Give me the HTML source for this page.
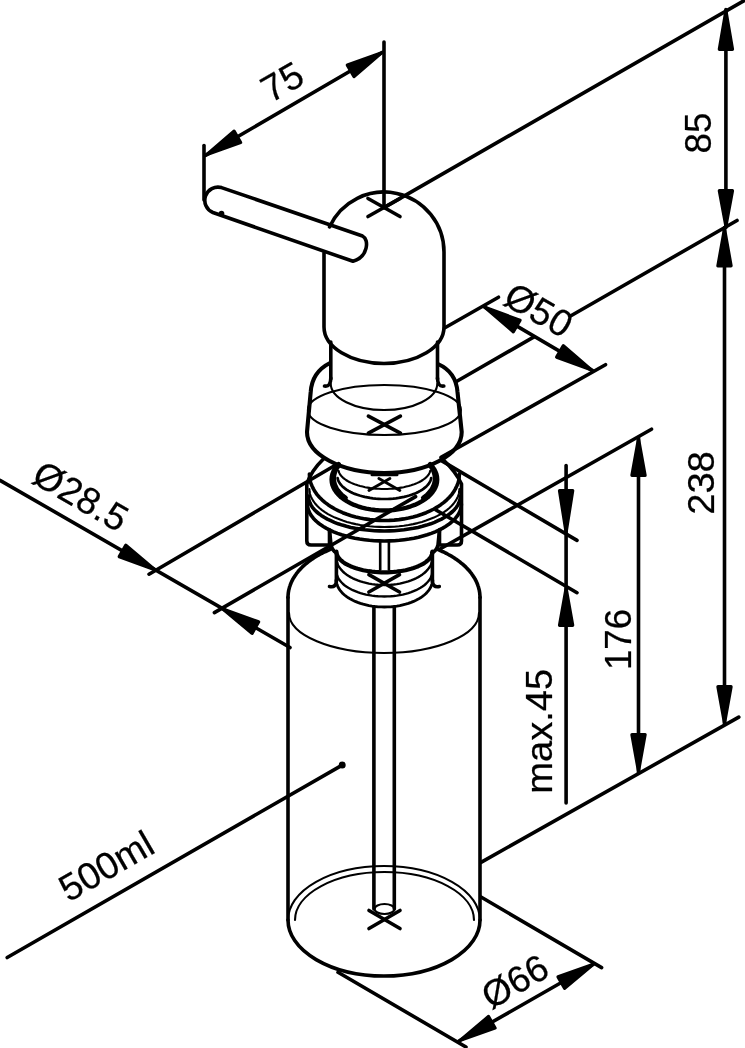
<!DOCTYPE html>
<html><head><meta charset="utf-8"><style>
html,body{margin:0;padding:0;background:#fff;}
svg{display:block;filter:grayscale(100%);}
text{font-family:"Liberation Sans",sans-serif;}
</style></head><body>
<svg width="745" height="1048" viewBox="0 0 745 1048" stroke="#000" stroke-linecap="round" stroke-linejoin="round" fill="none">
<rect width="745" height="1048" fill="#fff" stroke="none"/>
<line x1="204.0" y1="145.5" x2="204.0" y2="200.0" stroke-width="3.6"/>
<line x1="384.0" y1="42.0" x2="384.0" y2="207.5" stroke-width="3.6"/>
<line x1="205.5" y1="155.4" x2="382.5" y2="52.3" stroke-width="3.6"/>
<path d="M207.0,154.5 L240.6,142.5 L234.0,131.2 Z" fill="#000" stroke="#000" stroke-width="3.4"/>
<path d="M381.0,53.2 L347.4,65.2 L354.0,76.5 Z" fill="#000" stroke="#000" stroke-width="3.4"/>
<text x="270.6" y="103.5" transform="rotate(-30 270.6 103.5)" font-size="37.5" stroke="#000" stroke-width="0.25" fill="#000">75</text>
<line x1="384.0" y1="207.6" x2="745.0" y2="0.1" stroke-width="3.6"/>
<line x1="456.0" y1="381.7" x2="534.0" y2="336.9" stroke-width="3.6"/>
<line x1="570.5" y1="316.0" x2="737.0" y2="220.5" stroke-width="3.6"/>
<line x1="481.0" y1="862.4" x2="738.8" y2="717.1" stroke-width="3.6"/>
<line x1="725.9" y1="9.5" x2="725.9" y2="227.5" stroke-width="3.6"/>
<line x1="724.5" y1="227.5" x2="724.5" y2="724.0" stroke-width="3.6"/>
<path d="M725.9,11.2 L719.4,49.3 L732.4,49.3 Z" fill="#000" stroke="#000" stroke-width="3.4"/>
<path d="M725.9,225.8 L732.4,190.7 L719.4,190.7 Z" fill="#000" stroke="#000" stroke-width="3.4"/>
<path d="M724.5,229.2 L718.0,265.8 L731.0,265.8 Z" fill="#000" stroke="#000" stroke-width="3.4"/>
<path d="M724.5,722.8 L731.0,686.7 L718.0,686.7 Z" fill="#000" stroke="#000" stroke-width="3.4"/>
<text x="710.5" y="153.5" transform="rotate(-90 710.5 153.5)" font-size="36.7" stroke="#000" stroke-width="0.25" fill="#000">85</text>
<text x="714" y="514.8" transform="rotate(-90 714 514.8)" font-size="36" textLength="63.6" lengthAdjust="spacingAndGlyphs" stroke="#000" stroke-width="0.25" fill="#000">238</text>
<line x1="440.0" y1="549.0" x2="651.5" y2="429.2" stroke-width="3.6"/>
<line x1="638.5" y1="437.6" x2="638.5" y2="772.5" stroke-width="3.6"/>
<path d="M638.5,439.3 L632.0,475.4 L645.0,475.4 Z" fill="#000" stroke="#000" stroke-width="3.4"/>
<path d="M638.5,770.8 L645.0,734.7 L632.0,734.7 Z" fill="#000" stroke="#000" stroke-width="3.4"/>
<text x="631" y="670" transform="rotate(-90 631 670)" font-size="36" textLength="61.1" lengthAdjust="spacingAndGlyphs" stroke="#000" stroke-width="0.25" fill="#000">176</text>
<line x1="441.0" y1="460.4" x2="577.0" y2="540.4" stroke-width="3.6"/>
<line x1="436.0" y1="510.0" x2="577.0" y2="592.7" stroke-width="3.6"/>
<line x1="566.1" y1="465.5" x2="566.1" y2="803.0" stroke-width="3.6"/>
<path d="M566.1,531.8 L572.6,490.7 L559.6,490.7 Z" fill="#000" stroke="#000" stroke-width="3.4"/>
<path d="M566.1,588.7 L559.6,625.3 L572.6,625.3 Z" fill="#000" stroke="#000" stroke-width="3.4"/>
<text x="552" y="793.7" transform="rotate(-90 552 793.7)" font-size="36.7" textLength="124.9" lengthAdjust="spacingAndGlyphs" stroke="#000" stroke-width="0.25" fill="#000">max.45</text>
<line x1="444.5" y1="328.0" x2="498.5" y2="297.2" stroke-width="3.6"/>
<line x1="441.0" y1="457.3" x2="605.5" y2="364.7" stroke-width="3.6"/>
<line x1="484.0" y1="306.8" x2="592.6" y2="370.6" stroke-width="3.6"/>
<path d="M485.5,307.7 L513.3,331.6 L519.9,320.3 Z" fill="#000" stroke="#000" stroke-width="3.4"/>
<path d="M591.1,369.7 L563.3,345.8 L556.7,357.1 Z" fill="#000" stroke="#000" stroke-width="3.4"/>
<text x="501.6" y="303.4" transform="rotate(30 501.6 303.4)" font-size="37.5" stroke="#000" stroke-width="0.25" fill="#000">Ø50</text>
<line x1="0.0" y1="480.3" x2="290.0" y2="647.5" stroke-width="3.6"/>
<path d="M154.2,569.3 L125.8,545.4 L119.3,556.7 Z" fill="#000" stroke="#000" stroke-width="3.4"/>
<path d="M223.5,609.4 L252.0,633.3 L258.5,621.9 Z" fill="#000" stroke="#000" stroke-width="3.4"/>
<line x1="149.0" y1="574.2" x2="334.0" y2="466.0" stroke-width="3.6"/>
<line x1="214.4" y1="612.6" x2="415.6" y2="496.6" stroke-width="3.6"/>
<text x="30" y="481.8" transform="rotate(30 30 481.8)" font-size="37.5" stroke="#000" stroke-width="0.25" fill="#000">Ø28.5</text>
<line x1="342.2" y1="765.1" x2="7.2" y2="957.5" stroke-width="3.6"/>
<circle cx="342.2" cy="765.1" r="3.5" fill="#000" stroke="none"/>
<text x="68.4" y="902.8" transform="rotate(-30 68.4 902.8)" font-size="37.5" stroke="#000" stroke-width="0.25" fill="#000">500ml</text>
<line x1="338.0" y1="972.3" x2="466.0" y2="1047.0" stroke-width="3.6"/>
<line x1="481.0" y1="897.0" x2="601.6" y2="967.6" stroke-width="3.6"/>
<line x1="458.9" y1="1041.0" x2="594.2" y2="963.8" stroke-width="3.6"/>
<path d="M460.4,1040.2 L495.0,1028.0 L488.5,1016.6 Z" fill="#000" stroke="#000" stroke-width="3.4"/>
<path d="M592.7,964.6 L558.1,976.8 L564.6,988.2 Z" fill="#000" stroke="#000" stroke-width="3.4"/>
<text x="491" y="1010" transform="rotate(-30 491 1010)" font-size="37" stroke="#000" stroke-width="0.25" fill="#000">Ø66</text>
<path d="M221.5,187.6 L362.5,236 C369.5,239.5 368,257 353,261.3 L212.9,212.5 A13.2,13.2 0 0 1 221.5,187.6 Z" stroke-width="3.6" fill="none"/>
<circle cx="221.5" cy="213.6" r="2.8" fill="#000" stroke="none"/>
<path d="M329.5,226.9 A60,60 0 0 1 444,252 L444,327 A60,36.5 0 0 1 324,327 L324,253" stroke-width="3.6" fill="none"/>
<line x1="368.0" y1="198.5" x2="400.0" y2="216.5" stroke-width="3.6"/>
<line x1="368.0" y1="216.5" x2="400.0" y2="198.5" stroke-width="3.6"/>
<line x1="330.8" y1="342.0" x2="330.8" y2="379.0" stroke-width="3.6"/>
<line x1="437.5" y1="342.0" x2="437.5" y2="379.0" stroke-width="3.6"/>
<path d="M330.8,378 Q330.8,387 324.5,386" stroke-width="3.6" fill="none"/>
<path d="M437.5,378 Q437.5,387 443.8,386" stroke-width="3.6" fill="none"/>
<path d="M330.7,383.5 A53.3,26.5 0 0 0 437.3,383.5" stroke-width="2.1" fill="none"/>
<path d="M330,363 Q312,372 310.7,392 L307,432 A77.35,41 0 0 0 461.7,432 L457.5,392 Q456,372 438,364" stroke-width="4.1" fill="none"/>
<ellipse cx="384.4" cy="410" rx="76.5" ry="25" stroke-width="2.1" fill="none"/>
<line x1="368.4" y1="416.1" x2="400.4" y2="433.1" stroke-width="3.6"/>
<line x1="368.4" y1="433.1" x2="400.4" y2="416.1" stroke-width="3.6"/>
<path d="M430.1,464.0 L432.3,466.4 L434.0,468.9 L435.4,471.5 L436.4,474.1 L437.0,476.8 L437.2,479.5 L437.0,482.2 L436.4,484.9 L435.4,487.5 L434.0,490.1 L432.3,492.6 L430.1,495.0 L427.7,497.3 L424.8,499.4 L421.7,501.4 L418.3,503.2 L414.7,504.9 L410.8,506.3 L406.7,507.6 L402.5,508.6 L398.1,509.4 L393.6,510.0 L389.0,510.4 L384.4,510.5 L379.8,510.4 L375.2,510.0 L370.7,509.4 L366.3,508.6 L362.1,507.6 L358.0,506.3 L354.1,504.9 L350.5,503.2 L347.1,501.4 L344.0,499.4 L341.1,497.3 L338.7,495.0 L336.5,492.6 L334.8,490.1 L333.4,487.5 L332.4,484.9 L331.8,482.2 L331.6,479.5 L331.8,476.8 L332.4,474.1 L333.4,471.5 L334.8,468.9 L336.5,466.4 L338.7,464.0" stroke-width="4.4" fill="none"/>
<path d="M345.9,497.8 L345.1,497.2 L344.4,496.7 L343.7,496.1 L343.0,495.5 L342.3,494.9 L341.7,494.3 L341.1,493.7 L340.5,493.1 L339.9,492.5 L339.4,491.9 L338.9,491.2 L338.4,490.6 L337.9,489.9 L337.5,489.3 L337.0,488.6 L336.7,487.9 L336.3,487.3 L336.0,486.6 L335.7,485.9 L335.4,485.2 L335.1,484.5 L334.9,483.8 L334.7,483.1 L334.5,482.4 L334.4,481.7 L334.3,481.0 L334.2,480.3 L334.1,479.6 L334.1,478.9 L334.1,478.2 L334.1,477.5 L334.2,476.8 L334.3,476.0 L334.4,475.3 L334.5,474.6 L334.7,473.9 L334.9,473.2 L335.1,472.5 L335.4,471.8 L335.6,471.2 L335.9,470.5 L336.3,469.8 L336.6,469.1 L337.0,468.4 L337.4,467.8 L337.9,467.1 L338.3,466.5 L338.8,465.8" stroke-width="4.0" fill="none"/>
<path d="M430.0,465.8 L430.5,466.5 L430.9,467.1 L431.4,467.8 L431.8,468.4 L432.2,469.1 L432.5,469.8 L432.9,470.5 L433.2,471.2 L433.4,471.8 L433.7,472.5 L433.9,473.2 L434.1,473.9 L434.3,474.6 L434.4,475.3 L434.5,476.0 L434.6,476.8 L434.7,477.5 L434.7,478.2 L434.7,478.9 L434.7,479.6 L434.6,480.3 L434.5,481.0 L434.4,481.7 L434.3,482.4 L434.1,483.1 L433.9,483.8 L433.7,484.5 L433.4,485.2 L433.1,485.9 L432.8,486.6 L432.5,487.3 L432.1,487.9 L431.8,488.6 L431.3,489.3 L430.9,489.9 L430.4,490.6 L429.9,491.2 L429.4,491.9 L428.9,492.5 L428.3,493.1 L427.7,493.7 L427.1,494.3 L426.5,494.9 L425.8,495.5 L425.1,496.1 L424.4,496.7 L423.7,497.2 L422.9,497.8" stroke-width="4.0" fill="none"/>
<path d="M430.2,470.7 L429.9,472.0 L429.4,473.2 L428.7,474.4 L427.9,475.6 L426.8,476.7 L425.7,477.8 L424.3,478.9 L422.8,480.0 L421.2,481.0 L419.4,482.0 L417.5,482.9 L415.5,483.7 L413.3,484.6 L411.1,485.3 L408.7,486.0 L406.2,486.6 L403.7,487.2 L401.1,487.6 L398.4,488.1 L395.7,488.4 L392.9,488.7 L390.1,488.8 L387.2,489.0 L384.4,489.0 L381.6,489.0 L378.7,488.8 L375.9,488.7 L373.1,488.4 L370.4,488.1 L367.7,487.6 L365.1,487.2 L362.6,486.6 L360.1,486.0 L357.7,485.3 L355.5,484.6 L353.3,483.7 L351.3,482.9 L349.4,482.0 L347.6,481.0 L346.0,480.0 L344.5,478.9 L343.1,477.8 L342.0,476.7 L340.9,475.6 L340.1,474.4 L339.4,473.2 L338.9,472.0 L338.6,470.7" stroke-width="2.1" fill="none"/>
<path d="M431.2,478.0 L430.9,479.4 L430.4,480.8 L429.7,482.2 L428.8,483.6 L427.8,484.9 L426.6,486.2 L425.2,487.4 L423.7,488.6 L422.0,489.8 L420.2,490.9 L418.2,492.0 L416.2,493.0 L414.0,493.9 L411.6,494.7 L409.2,495.5 L406.7,496.2 L404.1,496.9 L401.4,497.4 L398.7,497.9 L395.9,498.3 L393.1,498.6 L390.2,498.8 L387.3,499.0 L384.4,499.0 L381.5,499.0 L378.6,498.8 L375.7,498.6 L372.9,498.3 L370.1,497.9 L367.4,497.4 L364.7,496.9 L362.1,496.2 L359.6,495.5 L357.2,494.7 L354.8,493.9 L352.6,493.0 L350.6,492.0 L348.6,490.9 L346.8,489.8 L345.1,488.6 L343.6,487.4 L342.2,486.2 L341.0,484.9 L340.0,483.6 L339.1,482.2 L338.4,480.8 L337.9,479.4 L337.6,478.0" stroke-width="2.7" fill="none"/>
<line x1="368.9" y1="490.4" x2="389.9" y2="478.5" stroke-width="2.9000000000000004"/>
<line x1="399.9" y1="490.4" x2="378.9" y2="478.5" stroke-width="2.9000000000000004"/>
<line x1="372.0" y1="474.8" x2="397.0" y2="474.8" stroke-width="3"/>
<path d="M323.4,459 Q311,471 306.8,484 L306.8,541 Q306.8,545 311,545 L329.5,545 L329.5,530" stroke-width="3.6" fill="none"/>
<path d="M443.5,460 Q456,472 461.5,484 L461.5,541 Q461.5,545 457.3,545 L439.5,545 L439.5,530" stroke-width="3.6" fill="none"/>
<path d="M459.4,474.0 L459.2,477.0 L458.8,480.1 L458.0,483.1 L456.8,486.0 L455.4,488.9 L453.7,491.8 L451.7,494.6 L449.4,497.2 L446.8,499.8 L443.9,502.3 L440.8,504.7 L437.4,506.9 L433.9,509.0 L430.1,510.9 L426.1,512.7 L421.9,514.3 L417.6,515.7 L413.1,517.0 L408.5,518.0 L403.8,518.9 L399.0,519.6 L394.2,520.1 L389.3,520.4 L384.4,520.5 L379.5,520.4 L374.6,520.1 L369.8,519.6 L365.0,518.9 L360.3,518.0 L355.7,517.0 L351.2,515.7 L346.9,514.3 L342.7,512.7 L338.7,510.9 L334.9,509.0 L331.4,506.9 L328.0,504.7 L324.9,502.3 L322.0,499.8 L319.4,497.2 L317.1,494.6 L315.1,491.8 L313.4,488.9 L312.0,486.0 L310.8,483.1 L310.0,480.1 L309.6,477.0 L309.4,474.0" stroke-width="3.6" fill="none"/>
<path d="M459.4,489.0 L459.2,491.5 L458.8,494.0 L458.0,496.4 L456.8,498.8 L455.4,501.2 L453.7,503.5 L451.7,505.8 L449.4,508.0 L446.8,510.1 L443.9,512.1 L440.8,514.1 L437.4,515.9 L433.9,517.6 L430.1,519.1 L426.1,520.6 L421.9,521.9 L417.6,523.1 L413.1,524.1 L408.5,525.0 L403.8,525.7 L399.0,526.3 L394.2,526.7 L389.3,526.9 L384.4,527.0 L379.5,526.9 L374.6,526.7 L369.8,526.3 L365.0,525.7 L360.3,525.0 L355.7,524.1 L351.2,523.1 L346.9,521.9 L342.7,520.6 L338.7,519.1 L334.9,517.6 L331.4,515.9 L328.0,514.1 L324.9,512.1 L322.0,510.1 L319.4,508.0 L317.1,505.8 L315.1,503.5 L313.4,501.2 L312.0,498.8 L310.8,496.4 L310.0,494.0 L309.6,491.5 L309.4,489.0" stroke-width="2.1" fill="none"/>
<path d="M460.4,496.0 L460.2,498.3 L459.7,500.6 L458.9,502.8 L457.8,505.1 L456.4,507.3 L454.6,509.4 L452.6,511.5 L450.2,513.5 L447.6,515.4 L444.7,517.3 L441.5,519.1 L438.1,520.7 L434.5,522.3 L430.7,523.8 L426.6,525.1 L422.4,526.3 L418.0,527.4 L413.5,528.3 L408.8,529.1 L404.1,529.8 L399.2,530.3 L394.3,530.7 L389.4,530.9 L384.4,531.0 L379.4,530.9 L374.5,530.7 L369.6,530.3 L364.7,529.8 L360.0,529.1 L355.3,528.3 L350.8,527.4 L346.4,526.3 L342.2,525.1 L338.1,523.8 L334.3,522.3 L330.7,520.7 L327.3,519.1 L324.1,517.3 L321.2,515.4 L318.6,513.5 L316.2,511.5 L314.2,509.4 L312.4,507.3 L311.0,505.1 L309.9,502.8 L309.1,500.6 L308.6,498.3 L308.4,496.0" stroke-width="3.6" fill="none"/>
<path d="M461.4,504.0 L461.2,506.4 L460.7,508.8 L459.9,511.2 L458.8,513.6 L457.3,515.9 L455.5,518.2 L453.5,520.4 L451.1,522.5 L448.4,524.6 L445.5,526.5 L442.3,528.4 L438.8,530.2 L435.2,531.8 L431.3,533.4 L427.2,534.8 L422.9,536.0 L418.5,537.2 L413.9,538.2 L409.2,539.0 L404.3,539.7 L399.4,540.3 L394.5,540.7 L389.4,540.9 L384.4,541.0 L379.4,540.9 L374.3,540.7 L369.4,540.3 L364.5,539.7 L359.6,539.0 L354.9,538.2 L350.3,537.2 L345.9,536.0 L341.6,534.8 L337.5,533.4 L333.6,531.8 L330.0,530.2 L326.5,528.4 L323.3,526.5 L320.4,524.6 L317.7,522.5 L315.3,520.4 L313.3,518.2 L311.5,515.9 L310.0,513.6 L308.9,511.2 L308.1,508.8 L307.6,506.4 L307.4,504.0" stroke-width="3.6" fill="none"/>
<path d="M329.5,530 L331,545 Q332.5,551 336.6,553" stroke-width="3.6" fill="none"/>
<path d="M439.5,530 L438,545 Q436.5,551 431.7,553" stroke-width="3.6" fill="none"/>
<path d="M432.4,551.5 L432.3,552.9 L432.0,554.2 L431.5,555.6 L430.8,556.9 L429.9,558.2 L428.7,559.5 L427.4,560.7 L426.0,561.9 L424.3,563.1 L422.5,564.2 L420.5,565.2 L418.3,566.2 L416.0,567.1 L413.6,568.0 L411.1,568.8 L408.4,569.5 L405.6,570.2 L402.8,570.7 L399.8,571.2 L396.8,571.6 L393.8,571.9 L390.7,572.1 L387.5,572.3 L384.4,572.3 L381.3,572.3 L378.1,572.1 L375.0,571.9 L372.0,571.6 L369.0,571.2 L366.0,570.7 L363.2,570.2 L360.4,569.5 L357.7,568.8 L355.2,568.0 L352.8,567.1 L350.5,566.2 L348.3,565.2 L346.3,564.2 L344.5,563.1 L342.8,561.9 L341.4,560.7 L340.1,559.5 L338.9,558.2 L338.0,556.9 L337.3,555.6 L336.8,554.2 L336.5,552.9 L336.4,551.5" stroke-width="4.2" fill="none"/>
<line x1="336.4" y1="553.0" x2="336.4" y2="581.0" stroke-width="3.6"/>
<line x1="432.4" y1="553.0" x2="432.4" y2="581.0" stroke-width="3.6"/>
<path d="M336.4,580 Q336.4,588 329.5,586.5" stroke-width="3.6" fill="none"/>
<path d="M432.4,580 Q432.4,588 439.3,586.5" stroke-width="3.6" fill="none"/>
<path d="M432.4,558.0 L432.3,559.8 L432.0,561.5 L431.5,563.3 L430.8,565.0 L429.9,566.7 L428.7,568.3 L427.4,569.9 L426.0,571.5 L424.3,573.0 L422.5,574.4 L420.5,575.8 L418.3,577.1 L416.0,578.3 L413.6,579.4 L411.1,580.4 L408.4,581.4 L405.6,582.2 L402.8,582.9 L399.8,583.6 L396.8,584.1 L393.8,584.5 L390.7,584.8 L387.5,584.9 L384.4,585.0 L381.3,584.9 L378.1,584.8 L375.0,584.5 L372.0,584.1 L369.0,583.6 L366.0,582.9 L363.2,582.2 L360.4,581.4 L357.7,580.4 L355.2,579.4 L352.8,578.3 L350.5,577.1 L348.3,575.8 L346.3,574.4 L344.5,573.0 L342.8,571.5 L341.4,569.9 L340.1,568.3 L338.9,566.7 L338.0,565.0 L337.3,563.3 L336.8,561.5 L336.5,559.8 L336.4,558.0" stroke-width="2.4" fill="none"/>
<path d="M432.4,571.0 L432.3,572.7 L432.0,574.3 L431.5,576.0 L430.8,577.6 L429.9,579.2 L428.7,580.8 L427.4,582.3 L426.0,583.8 L424.3,585.2 L422.5,586.5 L420.5,587.8 L418.3,589.0 L416.0,590.2 L413.6,591.2 L411.1,592.2 L408.4,593.1 L405.6,593.9 L402.8,594.6 L399.8,595.1 L396.8,595.6 L393.8,596.0 L390.7,596.3 L387.5,596.4 L384.4,596.5 L381.3,596.4 L378.1,596.3 L375.0,596.0 L372.0,595.6 L369.0,595.1 L366.0,594.6 L363.2,593.9 L360.4,593.1 L357.7,592.2 L355.2,591.2 L352.8,590.2 L350.5,589.0 L348.3,587.8 L346.3,586.5 L344.5,585.2 L342.8,583.8 L341.4,582.3 L340.1,580.8 L338.9,579.2 L338.0,577.6 L337.3,576.0 L336.8,574.3 L336.5,572.7 L336.4,571.0" stroke-width="2.4" fill="none"/>
<path d="M432.4,580.0 L432.3,581.8 L432.0,583.5 L431.5,585.3 L430.8,587.0 L429.9,588.7 L428.7,590.3 L427.4,591.9 L426.0,593.5 L424.3,595.0 L422.5,596.4 L420.5,597.8 L418.3,599.1 L416.0,600.3 L413.6,601.4 L411.1,602.4 L408.4,603.4 L405.6,604.2 L402.8,604.9 L399.8,605.6 L396.8,606.1 L393.8,606.5 L390.7,606.8 L387.5,606.9 L384.4,607.0 L381.3,606.9 L378.1,606.8 L375.0,606.5 L372.0,606.1 L369.0,605.6 L366.0,604.9 L363.2,604.2 L360.4,603.4 L357.7,602.4 L355.2,601.4 L352.8,600.3 L350.5,599.1 L348.3,597.8 L346.3,596.4 L344.5,595.0 L342.8,593.5 L341.4,591.9 L340.1,590.3 L338.9,588.7 L338.0,587.0 L337.3,585.3 L336.8,583.5 L336.5,581.8 L336.4,580.0" stroke-width="2.8" fill="none"/>
<line x1="368.9" y1="574.6" x2="399.5" y2="592.0" stroke-width="3.6"/>
<line x1="368.9" y1="592.0" x2="399.5" y2="574.6" stroke-width="3.6"/>
<line x1="380.2" y1="542.0" x2="380.2" y2="569.5" stroke-width="2.6"/>
<line x1="388.9" y1="542.0" x2="388.9" y2="569.5" stroke-width="2.6"/>
<path d="M288,920 L288,597.5" stroke-width="3.6" fill="none"/>
<path d="M288.0,597.5 L288.0,596.3 L288.1,595.1 L288.2,594.0 L288.3,592.8 L288.5,591.6 L288.7,590.4 L289.0,589.3 L289.3,588.1 L289.6,586.9 L290.0,585.8 L290.4,584.6 L290.9,583.5 L291.3,582.3 L291.9,581.2 L292.4,580.1 L293.0,578.9 L293.7,577.8 L294.4,576.7 L295.1,575.6 L295.9,574.5 L296.6,573.4 L297.5,572.4 L298.3,571.3 L299.2,570.3 L300.2,569.2 L301.1,568.2 L302.1,567.2 L303.2,566.2 L304.3,565.2 L305.4,564.2 L306.5,563.3 L307.7,562.3 L308.9,561.4 L310.1,560.5 L311.4,559.6 L312.7,558.7 L314.0,557.8 L315.3,557.0 L316.7,556.1 L318.1,555.3 L319.6,554.5 L321.0,553.7 L322.5,553.0 L324.0,552.2 L325.6,551.5 L327.1,550.8 L328.7,550.1 L330.3,549.4" stroke-width="3.6" fill="none"/>
<path d="M480,920 L480,597.5" stroke-width="3.6" fill="none"/>
<path d="M437.7,549.4 L439.3,550.1 L440.9,550.8 L442.4,551.5 L444.0,552.2 L445.5,553.0 L447.0,553.7 L448.4,554.5 L449.9,555.3 L451.3,556.1 L452.7,557.0 L454.0,557.8 L455.3,558.7 L456.6,559.6 L457.9,560.5 L459.1,561.4 L460.3,562.3 L461.5,563.3 L462.6,564.2 L463.7,565.2 L464.8,566.2 L465.9,567.2 L466.9,568.2 L467.8,569.2 L468.8,570.3 L469.7,571.3 L470.5,572.4 L471.4,573.4 L472.1,574.5 L472.9,575.6 L473.6,576.7 L474.3,577.8 L475.0,578.9 L475.6,580.1 L476.1,581.2 L476.7,582.3 L477.1,583.5 L477.6,584.6 L478.0,585.8 L478.4,586.9 L478.7,588.1 L479.0,589.3 L479.3,590.4 L479.5,591.6 L479.7,592.8 L479.8,594.0 L479.9,595.1 L480.0,596.3 L480.0,597.5" stroke-width="3.6" fill="none"/>
<path d="M289.0,613.0 A95,40 0 0 0 479.0,613.0" stroke-width="2.1" fill="none"/>
<path d="M288,920 A96,56 0 0 0 480,920" stroke-width="3.6" fill="none"/>
<path d="M288.0,920.0 A96,54 0 0 1 480.0,920.0" stroke-width="2.1" fill="none"/>
<path d="M295,920 A89.5,48 0 0 1 474,920" stroke-width="2.1" fill="none"/>
<line x1="373.9" y1="607.0" x2="373.9" y2="909.0" stroke-width="3.6"/>
<line x1="394.3" y1="607.0" x2="394.3" y2="909.0" stroke-width="3.6"/>
<ellipse cx="384.5" cy="909" rx="10" ry="5" stroke-width="2.1" fill="none"/>
<line x1="369.0" y1="910.5" x2="400.0" y2="928.5" stroke-width="3.6"/>
<line x1="369.0" y1="928.5" x2="400.0" y2="910.5" stroke-width="3.6"/>
</svg>
</body></html>
